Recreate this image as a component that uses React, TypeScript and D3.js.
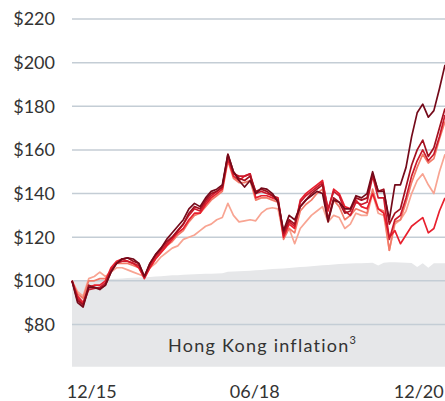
import React from "react";
import * as d3 from "d3";

const months: string[] = (() => {
  const out: string[] = [];
  for (let k = 0; k < 68; k++) {
    const m = ((8 + k) % 12) + 1;
    const y = 15 + Math.floor((8 + k) / 12);
    out.push(`${String(m).padStart(2, "0")}/${y}`);
  }
  return out;
})();

const yTicks = [80, 100, 120, 140, 160, 180, 200, 220];
const xTickLabels = ["12/15", "06/18", "12/20"];

const inflation = [100, 100, 100.2, 100.4, 100.5, 100.6, 100.7, 100.8, 101, 101.1, 101.3, 101.4, 101.5, 101.6, 101.8, 102, 102.1, 102.3, 102.5, 102.6, 102.8, 102.9, 103, 103.1, 103.2, 103.3, 103.4, 103.5, 104.2, 104.3, 104.4, 104.5, 104.6, 104.8, 105, 105.2, 105.4, 105.5, 105.7, 105.9, 106.1, 106.3, 106.5, 106.7, 106.9, 107.1, 107.3, 107.5, 107.7, 107.8, 107.9, 108, 108.1, 108.2, 108.3, 107, 108.3, 108.5, 108.5, 108.4, 108.3, 108.2, 106.3, 108, 106, 108, 108, 108];

const maroon = [100, 90, 88, 97, 97, 96, 98, 104, 108, 110, 110.5, 110, 108, 102, 108, 112, 115, 119, 122, 125, 128, 133, 135.5, 134, 138, 141, 142, 144, 158, 150, 146, 143, 146, 140, 142.5, 142, 140, 136, 123, 130, 128, 134, 137, 139, 141, 140, 127, 137, 136, 133, 133, 139, 138, 140, 150, 141, 141, 128, 144, 144, 152, 166, 177, 181, 175, 178, 188, 199];
const darkRed = [100, 91, 89, 98, 97, 96.5, 98, 104, 108, 110, 110.5, 109, 108, 102, 108, 112, 115, 118, 120, 123, 126, 131, 134, 133, 137, 140, 141, 143, 158, 150, 147, 146, 148, 141, 142, 141, 139, 137, 122, 128, 126, 134, 137, 140, 142, 144, 128, 138, 136, 131, 132, 138, 137, 138, 149, 141, 142, 126, 131, 133, 143, 153, 160, 164.5, 157, 161, 170, 179];
const red = [100, 92, 89, 96, 96.5, 97, 99, 105, 108, 109, 109, 108, 107, 101.5, 107, 111, 114, 117, 120, 123, 126, 130, 133, 132, 136, 139, 141, 143, 157, 149, 148, 148, 149, 140, 141, 140, 139, 138, 121, 127, 125, 136, 139, 141, 143, 145, 133, 141, 139, 132, 130, 136, 135, 136, 148, 138, 138, 119, 128, 130, 138, 148, 155, 160, 155, 158, 166, 176];
const brightRed = [100, 93, 90, 97, 98, 98, 100, 106, 109, 110, 109, 108, 106, 101, 106, 110, 113, 116, 119, 122, 124, 128, 131, 131, 135, 138, 140, 142, 156, 148, 146, 148, 149, 138, 139, 139, 138, 137, 120, 126, 124, 137, 140, 142, 144, 146, 132, 142, 140, 134, 133, 137, 134, 133, 140, 133, 131, 120, 123, 117, 121, 125, 127, 129, 122, 124, 132, 138];
const salmon = [100, 94, 92, 100, 100, 101, 101, 105, 108, 108, 108, 107, 106, 102, 106, 110, 113, 116, 118, 121, 123, 127, 130, 131, 134, 137, 139, 141, 155, 147, 145, 145, 146, 137, 138, 138, 137, 136, 119, 124, 122, 132, 135, 137, 140, 142, 128, 137, 134, 128, 130, 133, 132, 131, 142, 133, 132, 114, 127, 128, 136, 145, 152, 158, 154, 156, 165, 173];
const lightSalmon = [100, 95, 93, 101, 102, 104, 102, 104, 106, 106, 105, 104, 103, 102, 106, 108, 111, 113, 115, 116, 119, 120, 121, 123, 125, 126, 128, 129, 135.5, 130, 127, 127.5, 128, 127.5, 131, 133, 133.5, 133, 121, 124, 117, 124, 127, 130, 132, 134, 127, 130, 129, 124, 126, 131, 130, 130, 140, 131, 130, 114, 126, 128, 132, 140, 146, 149, 144, 140, 150, 158];

const seriesList = [
  { name: "lightSalmon", values: lightSalmon, color: "#f8a492" },
  { name: "salmon", values: salmon, color: "#f27a68" },
  { name: "brightRed", values: brightRed, color: "#e8202e" },
  { name: "red", values: red, color: "#cc1a2c" },
  { name: "darkRed", values: darkRed, color: "#a3101f" },
  { name: "maroon", values: maroon, color: "#740a1a" },
];

const W = 445;
const H = 401;

export default function App() {
  const x = d3.scaleLinear().domain([0, months.length - 1]).range([72, 445]);
  const y = d3.scaleLinear().domain([60, 220]).range([368.1, 19]);

  const line = d3
    .line<number>()
    .x((_, i) => x(i))
    .y((d) => y(d));

  const area = d3
    .area<number>()
    .x((_, i) => x(i))
    .y0(() => y(60.6))
    .y1((d) => y(d));

  const font = "Lato, 'Open Sans', sans-serif";
  const nudge = [3, -1, -4];

  return (
    <svg
      width={W}
      height={H}
      style={{ position: "absolute", left: 0, top: 0, background: "#fff" }}
    >
      <path d={area(inflation) || ""} fill="#e6e7e9" />
      {yTicks.map((t) => (
        <g key={t}>
          <line x1={72} x2={445} y1={y(t)} y2={y(t)} stroke="#c4cdd5" strokeWidth={1.5} />
          <text
            x={55}
            y={y(t)}
            dy="0.36em"
            textAnchor="end"
            fontFamily={font}
            fontSize={18}
            fill="#333"
          >
            {`$${t}`}
          </text>
        </g>
      ))}
      {xTickLabels.map((lab, k) => {
        const i = months.indexOf(lab);
        return (
          <text
            key={lab}
            x={x(i) + nudge[k]}
            y={398}
            textAnchor="middle"
            fontFamily={font}
            fontSize={18}
            fill="#333"
          >
            {lab}
          </text>
        );
      })}
      <text
        x={168}
        y={352}
        textAnchor="start"
        fontFamily={font}
        fontSize={18}
        letterSpacing={1.25}
        fill="#333"
      >
        Hong Kong inflation
        <tspan fontSize={11} dy={-8}>3</tspan>
      </text>
      {seriesList.map((s) => (
        <path
          key={s.name}
          d={line(s.values) || ""}
          fill="none"
          stroke={s.color}
          strokeWidth={1.7}
          strokeLinejoin="round"
        />
      ))}
    </svg>
  );
}
